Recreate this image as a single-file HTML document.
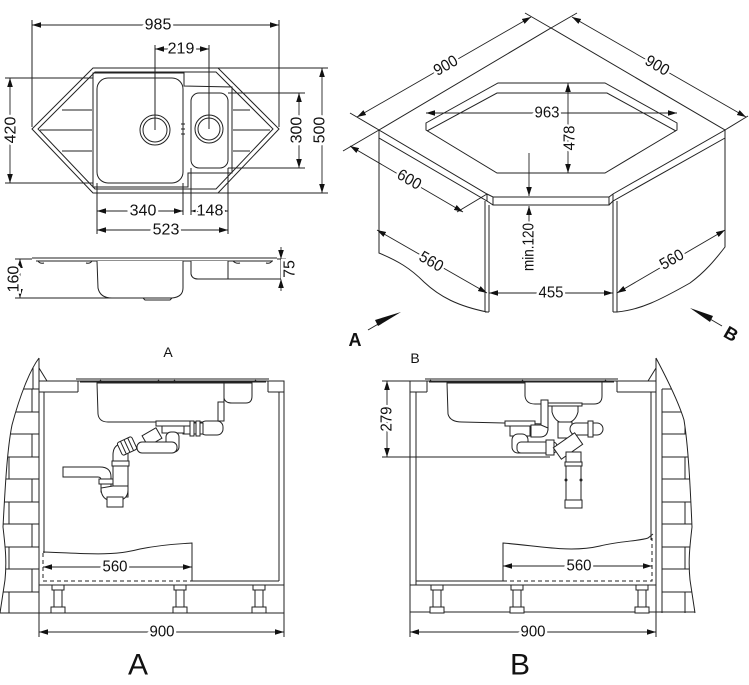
<!DOCTYPE html>
<html><head><meta charset="utf-8">
<style>
html,body{margin:0;padding:0;background:#fff;}
svg{display:block;}
.l{stroke:#222;stroke-width:1;fill:none;}
.w{stroke:#222;stroke-width:1;fill:#fff;}
.d{stroke:#222;stroke-width:0.9;fill:none;marker-start:url(#ar);marker-end:url(#ar);}
.e{stroke:#222;stroke-width:0.9;fill:none;marker-end:url(#ar);}
.dash{stroke:#222;stroke-width:1;fill:none;stroke-dasharray:4 3;}
.t{font-family:"Liberation Sans",sans-serif;font-size:16px;fill:#111;stroke:#fff;stroke-width:5px;paint-order:stroke;text-anchor:middle;dominant-baseline:central;}
.lab{font-family:"Liberation Sans",sans-serif;fill:#111;text-anchor:middle;dominant-baseline:central;}
</style></head><body>
<svg width="749" height="685" viewBox="0 0 749 685" xmlns="http://www.w3.org/2000/svg">
<defs>
<marker id="ar" markerWidth="10" markerHeight="8" refX="9" refY="4" orient="auto-start-reverse" markerUnits="userSpaceOnUse"><path d="M0,1.2 L9,4 L0,6.8z" fill="#111"/></marker>
<g id="leg" class="w"><rect x="-6" y="585" width="12" height="5"/><rect x="-4" y="590" width="8" height="17"/><rect x="-7" y="607" width="14" height="6"/></g>
<clipPath id="wa"><path d="M39,358 C30,370 20,395 12,425 C7,450 5,490 3,527 C5,545 7,560 5,580 L0,613 L39,613 Z"/></clipPath>
<clipPath id="wb"><path d="M656,358 C665,375 678,400 684,420 C688,445 690,480 692,527 C690,545 688,560 690,580 L695,613 L656,613 Z"/></clipPath>
</defs>

<!-- ============ PLAN VIEW ============ -->
<path class="l" d="M93,68 L218,68 L279,129 L218,193 L93,193 L32,129 Z"/>
<path class="l" d="M95,72 L216,72 L273,129 L216,189 L95,189 L38,129 Z"/>
<path class="l" d="M93,73 L184,73 L184,86 L232,87 L232,173 L188,173 L188,187 L93,187 Z"/>
<rect class="l" x="97" y="78" width="86" height="105" rx="11"/>
<rect class="l" x="191" y="93" width="37" height="75" rx="8"/>
<circle class="l" cx="155" cy="130" r="15"/><circle class="l" cx="155" cy="130" r="12"/>
<circle class="l" cx="209" cy="129" r="14"/><circle class="l" cx="209" cy="129" r="11"/>
<path class="l" stroke-width="1.3" d="M62,110 L92,110 M40,130 L92,130 M62,151 L92,151 M233,110 L250,110 M233,130 L270,130 M233,151 L250,151"/>
<path class="l" d="M181,124 L185,124 M181,129 L185,129 M181,134 L185,134 M183,122 L183,136"/>
<!-- plan dims -->
<path class="l" d="M32,20 L32,127 M279,20 L279,127"/>
<path class="d" d="M32,25 L279,25"/><text class="t" x="158" y="25">985</text>
<path class="l" d="M155,45 L155,130 M209,45 L209,129"/>
<path class="d" d="M155,49 L209,49"/><text class="t" x="181" y="49">219</text>
<path class="l" d="M5,78 L93,78 M5,183 L93,183"/>
<path class="d" d="M10,78 L10,183"/><text class="t" x="11" y="130" transform="rotate(-90 11 130)">420</text>
<path class="l" d="M228,93 L305,93 M228,168 L305,168"/>
<path class="d" d="M299,93 L299,168"/><text class="t" x="297" y="130" transform="rotate(-90 297 130)">300</text>
<path class="l" d="M218,68 L328,68 M218,193 L328,193"/>
<path class="d" d="M322,68 L322,193"/><text class="t" x="320" y="130" transform="rotate(-90 320 130)">500</text>
<path class="l" d="M97,183 L97,234 M183,183 L183,215 M191,168 L191,215 M228,168 L228,234"/>
<path class="d" d="M97,211 L183,211"/><text class="t" x="143" y="211">340</text>
<path class="d" d="M191,211 L228,211"/><text class="t" x="210" y="211">148</text>
<path class="d" d="M97,230 L228,230"/><text class="t" x="166" y="230">523</text>

<!-- ============ SIDE VIEW ============ -->
<path class="l" d="M32,258 L277,258 M36,261 L273,261"/>
<path class="l" d="M38,261 Q40,264 44,263 M86,263 Q90,264 92,261 M233,261 Q236,264 240,263 M266,263 Q270,264 272,261"/>
<path class="w" d="M97,261 L98,288 Q100,298 112,298 L172,298 Q183,297 183,288 L183,261"/>
<path class="l" d="M143,298 L145,300 L170,300 L172,298"/>
<path class="w" d="M191,261 L191,274 Q192,279 198,279 L228,279 L228,261"/>
<path class="l" d="M15,259 L32,259 M15,298 L112,298"/>
<path class="d" d="M20,259 L20,298"/><text class="t" x="14" y="279" transform="rotate(-90 14 279)">160</text>
<path class="l" d="M277,259 L286,259 M228,279 L286,279 M281,259 L281,279"/>
<path class="e" d="M281,247 L281,259"/><path class="e" d="M281,291 L281,279"/>
<text class="t" x="290" y="269" transform="rotate(-90 290 269)">75</text>

<!-- ============ ISOMETRIC ============ -->
<path class="l" d="M379,138 L379,253 C398,261 410,268 424,282 C440,297 458,306 487,312"/>
<path class="l" d="M485,201 L485,312 M489,205 L489,312 M485,312 L489,312"/>
<path class="l" d="M613,201 L613,312 M617,201 L617,312 M613,312 L617,312"/>
<path class="l" d="M617,312 C640,310 660,300 690,283 C705,272 715,260 725,247 L725,138"/>
<path class="w" d="M379,130 L551,28 L725,130 L613,194 L609,197 L493,197 L487,194 Z"/>
<path class="l" d="M379,130 L379,138 L487,201 L487,194 M493,197 L493,205 L609,205 L609,197 M725,130 L725,138 L613,201 L613,194 M487,201 L493,205 M609,205 L613,201"/>
<path class="l" d="M498,83 L605,83 L677,123 L677,130 L605,173 L497,173 L426,130 L426,123 Z"/>
<path class="l" d="M427,131 L497,93 L607,93 L676,131"/>
<path class="d" d="M426,113 L677,113"/><text class="t" x="547" y="113" textLength="25" lengthAdjust="spacingAndGlyphs">963</text>
<path class="d" d="M568,83 L568,173"/><text class="t" x="570" y="138" transform="rotate(-90 570 138)" textLength="25" lengthAdjust="spacingAndGlyphs">478</text>
<path class="e" d="M529,153 L529,196"/><path class="e" d="M529,224 L529,206"/>
<text class="t" x="529" y="247" transform="rotate(-90 529 247)" textLength="48" lengthAdjust="spacingAndGlyphs">min.120</text>
<path class="l" d="M379,130 L350,113 M551,28 L525,13 M551,28 L577,13 M725,130 L748,116"/>
<path class="d" d="M357,117 L531,17"/><text class="t" x="446" y="66" transform="rotate(-30 446 66)" textLength="25" lengthAdjust="spacingAndGlyphs">900</text>
<path class="d" d="M572,17 L746,117"/><text class="t" x="657" y="66" transform="rotate(30 657 66)" textLength="25" lengthAdjust="spacingAndGlyphs">900</text>
<path class="l" d="M379,130 L343,151 M487,194 L457,212"/>
<path class="d" d="M350,146 L463,212"/><text class="t" x="409" y="180" transform="rotate(30 409 180)" textLength="25" lengthAdjust="spacingAndGlyphs">600</text>
<path class="d" d="M377,230 L487,293"/><text class="t" x="431" y="262" transform="rotate(30 431 262)" textLength="25" lengthAdjust="spacingAndGlyphs">560</text>
<path class="d" d="M489,293 L613,293"/><text class="t" x="551" y="293" textLength="25" lengthAdjust="spacingAndGlyphs">455</text>
<path class="d" d="M617,293 L725,230"/><text class="t" x="672" y="260" transform="rotate(-30 672 260)" textLength="25" lengthAdjust="spacingAndGlyphs">560</text>
<path class="l" stroke-width="1.2" d="M368,330 L380,323"/>
<polygon points="401,312 378,326 375,320" fill="#111"/>
<text class="lab" x="355" y="340" font-size="18" font-weight="bold">A</text>
<path class="l" stroke-width="1.2" d="M722,326 L710,319"/>
<polygon points="690,308 713,316 710,322" fill="#111"/>
<text class="lab" x="731" y="334" font-size="18" font-weight="bold" transform="rotate(30 731 334)">B</text>

<!-- ============ VIEW A ============ -->
<text class="lab" x="168" y="352" font-size="14">A</text>
<path class="l" d="M39,358 C30,370 20,395 12,425 C7,450 5,490 3,527 C5,545 7,560 5,580 L0,613"/>
<path class="l" d="M39,358 L39,637 M39,368 L47,381"/>
<g clip-path="url(#wa)" class="l">
<path d="M0,389 L39,389 M0,412 L39,412 M0,434 L39,434 M0,457 L39,457 M0,479 L39,479 M0,502 L39,502 M0,524 L39,524 M0,547 L39,547 M0,569 L39,569 M0,592 L39,592"/>
<path d="M32,389 L32,412 M9,412 L9,434 M32,434 L32,457 M9,457 L9,479 M32,479 L32,502 M9,502 L9,524 M32,524 L32,547 M9,547 L9,569 M32,569 L32,592 M9,592 L9,613 M33,365 L33,389"/>
</g>
<path class="l" d="M39,381 L284,381 L284,637 M39,392 L78,392 M268,392 L284,392 M78,381 L78,392 M268,381 L268,392"/>
<path class="l" d="M44,392 L44,553 M279,392 L279,581 M39,585 L284,585 M192,581 L279,581 M0,613 L284,613"/>
<path class="dash" d="M43,553 L43,581 L192,581"/>
<path class="l" d="M43,552 C80,553 110,557 140,549 C165,544 180,544 192,543 L192,581"/>
<use href="#leg" x="58"/><use href="#leg" x="180"/><use href="#leg" x="259"/>
<path class="w" d="M97,383 L98,414 Q99,422 108,422 L216,422 Q224,421 224,414 L224,383 Z"/>
<path class="w" d="M224,383 L224,398 Q225,403 232,403 L246,403 Q252,403 252,396 L252,383 Z"/>
<path class="l" d="M76,379 L269,379 M80,382 L266,382"/>
<path class="l" d="M100,380 Q103,383 106,381 M158,380 Q161,383 164,381 M174,380 Q177,383 180,381 M255,380 Q258,383 261,381"/>
<g class="w">
<rect x="218" y="402" width="6" height="19"/>
<rect x="200" y="421" width="23" height="14" rx="6"/>
<rect x="183" y="423" width="20" height="11"/>
<rect x="190" y="421" width="4" height="15"/>
<rect x="196" y="421" width="4" height="15"/>
<rect x="156" y="421" width="34" height="5"/>
<rect x="162" y="426" width="22" height="7"/>
<g transform="translate(152,437) rotate(-30)"><rect x="-8" y="-6" width="16" height="12"/></g>
<rect x="166" y="432" width="13" height="20" rx="5"/>
<rect x="137" y="442" width="40" height="11" rx="5"/>
<path d="M113,497 L113,455 Q113,446 120,444 L125,444 L128,452 L128,497 Z"/>
<g transform="translate(127,446) rotate(-25)"><rect x="-8" y="-7" width="16" height="14" rx="2"/><path d="M-4,-7 L-4,7 M0,-7 L0,7 M4,-7 L4,7"/></g>
<rect x="112" y="461" width="17" height="5"/>
<path d="M63,467 L100,467 Q111,467 111,477 L111,492 L101,492 L101,480 Q101,477 98,477 L63,477 Z"/>
<rect x="99" y="479" width="14" height="5"/>
<path d="M101,488 Q101,501 114,501 Q128,501 128,490 L128,486 L113,486 Z"/>
<rect x="107" y="497" width="16" height="10"/>
</g>
<path class="d" d="M43,567 L192,567"/><text class="t" x="115" y="567" textLength="25" lengthAdjust="spacingAndGlyphs">560</text>
<path class="d" d="M39,632 L284,632"/><text class="t" x="162" y="632" textLength="25" lengthAdjust="spacingAndGlyphs">900</text>
<text class="lab" x="138" y="665" font-size="30">A</text>

<!-- ============ VIEW B ============ -->
<text class="lab" x="415" y="358" font-size="14">B</text>
<path class="l" d="M656,358 C665,375 678,400 684,420 C688,445 690,480 692,527 C690,545 688,560 690,580 L695,613"/>
<path class="l" d="M656,358 L656,613 M648,381 L656,368"/>
<g clip-path="url(#wb)" class="l">
<path d="M662,389 L700,389 M662,412 L700,412 M662,434 L700,434 M662,457 L700,457 M662,479 L700,479 M662,502 L700,502 M662,524 L700,524 M662,547 L700,547 M662,569 L700,569 M662,592 L700,592 M662,389 L662,613"/>
<path d="M685,412 L685,434 M685,457 L685,479 M685,502 L685,524 M685,547 L685,569 M685,592 L685,613"/>
</g>
<path class="l" d="M410,381 L656,381 M410,392 L427,392 M617,392 L656,392 M427,381 L427,392 M617,381 L617,392"/>
<path class="l" d="M410,381 L410,637 M416,392 L416,585 M651,392 L651,540 M410,585 L656,585 M416,581 L503,581 M410,612 L695,612"/>
<path class="dash" d="M503,581 L652,581 L652,538"/>
<path class="l" d="M503,581 L503,543 C540,546 570,553 600,546 C620,541 640,541 648,538 L653,534"/>
<use href="#leg" x="437"/><use href="#leg" x="517"/><use href="#leg" x="642"/>
<path class="w" d="M447,383 L448,414 Q450,422 462,422 L545,424 L545,383 Z"/>
<path class="w" d="M525,382 L525,396 Q526,404 535,404 L594,404 Q602,404 602,396 L602,382 Z"/>
<path class="l" d="M425,379 L618,379 M429,382 L614,382"/>
<path class="l" d="M430,380 Q433,383 436,381 M522,380 Q525,383 528,381 M605,380 Q608,383 611,381"/>
<g class="w">
<rect x="505" y="421" width="30" height="5"/>
<rect x="510" y="426" width="20" height="10"/>
<rect x="541" y="400" width="7" height="30"/>
<path d="M548,428 Q548,437 540,437 L531,437 L531,425 L541,425 Z"/>
<rect x="512" y="434" width="16" height="19" rx="6"/>
<rect x="517" y="442" width="40" height="11" rx="4"/>
<rect x="546" y="440" width="8" height="15"/>
<rect x="548" y="403" width="34" height="3"/>
<path d="M552,406 L552,412 Q555,423 565,423 Q575,423 578,412 L578,406 Z"/>
<rect x="558" y="422" width="14" height="16"/>
<rect x="570" y="423" width="33" height="12" rx="6"/>
<rect x="588" y="421" width="5" height="16"/>
<g transform="translate(568,446) rotate(-35)"><rect x="-13" y="-7" width="26" height="14"/></g>
<rect x="566" y="452" width="15" height="50"/>
<rect x="565" y="462" width="17" height="4"/>
<rect x="565" y="500" width="17" height="8"/>
</g>
<circle cx="581" cy="480" r="1.5" fill="#222"/><circle cx="566" cy="480" r="1.5" fill="#222"/>
<path class="l" d="M382,381 L410,381 M382,457 L550,457"/>
<path class="d" d="M387,381 L387,457"/><text class="t" x="387" y="419" transform="rotate(-90 387 419)" textLength="25" lengthAdjust="spacingAndGlyphs">279</text>
<path class="d" d="M503,566 L652,566"/><text class="t" x="579" y="566" textLength="25" lengthAdjust="spacingAndGlyphs">560</text>
<path class="l" d="M656,613 L656,637"/>
<path class="d" d="M410,632 L656,632"/><text class="t" x="533" y="632" textLength="25" lengthAdjust="spacingAndGlyphs">900</text>
<text class="lab" x="520" y="665" font-size="30">B</text>
</svg>
</body></html>
